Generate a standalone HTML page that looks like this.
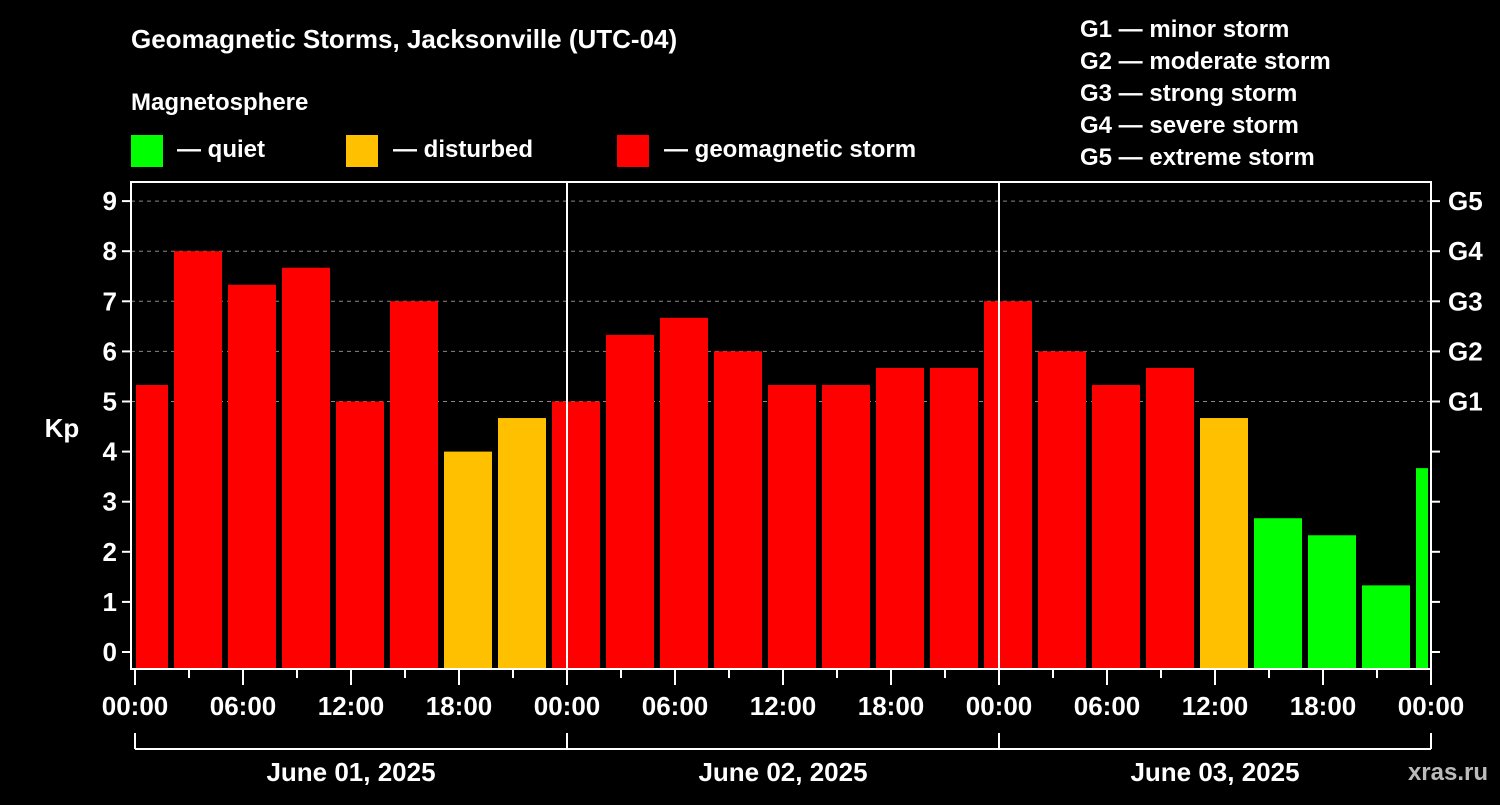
<!DOCTYPE html>
<html><head><meta charset="utf-8"><style>
body{margin:0;background:#000;width:1500px;height:800px;overflow:hidden;font-family:"Liberation Sans",sans-serif}
svg text{font-family:"Liberation Sans",sans-serif;font-weight:bold;fill:#fff}
</style></head><body>
<svg id="c" width="1500" height="800">
<text x="131" y="48" font-size="26">Geomagnetic Storms, Jacksonville (UTC-04)</text>
<text x="131" y="110" font-size="24">Magnetosphere</text>
<rect x="131" y="135" width="32" height="32" fill="#00ff00"/>
<text x="177" y="157" font-size="24">— quiet</text>
<rect x="346" y="135" width="32" height="32" fill="#ffc000"/>
<text x="393" y="157" font-size="24">— disturbed</text>
<rect x="617" y="135" width="32" height="32" fill="#ff0000"/>
<text x="664" y="157" font-size="24">— geomagnetic storm</text>
<g font-size="24">
<text x="1080" y="37">G1 — minor storm</text>
<text x="1080" y="69">G2 — moderate storm</text>
<text x="1080" y="101">G3 — strong storm</text>
<text x="1080" y="133">G4 — severe storm</text>
<text x="1080" y="165">G5 — extreme storm</text>
</g>
<text x="62" y="437" font-size="26" text-anchor="middle">Kp</text>
<text x="1488" y="780" font-size="24" text-anchor="end" fill="#bbb" style="fill:#bbb">xras.ru</text>
<g id="plot"></g>
</svg>
<script>
const kpValues=[5.33,8,7.33,7.67,5,7,4,4.67,5,6.33,6.67,6,5.33,5.33,5.67,5.67,7,6,5.33,5.67,4.67,2.67,2.33,1.33,3.67];
const startHour=-1; // first bin starts at 23:00 previous day
const yTicks=[0,1,2,3,4,5,6,7,8,9];
const gLabels=["G1","G2","G3","G4","G5"];
const xLabels=["00:00","06:00","12:00","18:00","00:00","06:00","12:00","18:00","00:00","06:00","12:00","18:00","00:00"];
const dayLabels=["June 01, 2025","June 02, 2025","June 03, 2025"];
const L=131,R=1431,T=182,B=669,x0=135;
const xs=h=>x0+h*18, ys=v=>652-v*50.1;
const NS="http://www.w3.org/2000/svg",g=document.getElementById('plot');
function mk(t,a,p){const e=document.createElementNS(NS,t);for(const k in a)e.setAttribute(k,a[k]);(p||g).appendChild(e);return e;}
// grid
for(let v=5;v<=9;v++){const e=mk('line',{x1:L,x2:R,y1:ys(v),y2:ys(v),stroke:'#888','stroke-dasharray':'4,4','stroke-width':1});

}
// bars
kpValues.forEach((v,i)=>{let a=xs(startHour+i*3)+3,b=xs(startHour+i*3+3)-3;a=Math.max(a,L+5);b=Math.min(b,R-3);
const c=v>=5?'#ff0000':(v>=4?'#ffc000':'#00ff00');
const r=mk('rect',{x:a,y:ys(v),width:b-a,height:B-1-ys(v),fill:c});

});
// day separators
[1,2].forEach(d=>{const e=mk('line',{x1:xs(24*d),x2:xs(24*d),y1:T,y2:B,stroke:'#fff','stroke-width':2});

});
const fr=mk('rect',{x:L,y:T,width:R-L,height:B-T,fill:'none',stroke:'#fff','stroke-width':2});


yTicks.forEach(v=>{mk('line',{x1:L-9,x2:L,y1:ys(v),y2:ys(v),stroke:'#fff','stroke-width':2});
mk('line',{x1:R,x2:R+9,y1:ys(v),y2:ys(v),stroke:'#fff','stroke-width':2});
const t=mk('text',{x:L-14,y:ys(v)+9,'font-size':26,'text-anchor':'end'});t.textContent=v;

});
gLabels.forEach((s,i)=>{const t=mk('text',{x:R+17,y:ys(5+i)+9,'font-size':26});t.textContent=s;

});
for(let h=0;h<=72;h+=3){mk('line',{x1:xs(h),x2:xs(h),y1:B,y2:h%6?B+9:B+16,stroke:'#fff','stroke-width':2});}
xLabels.forEach((s,i)=>{const t=mk('text',{x:xs(i*6),y:715,'font-size':26,'text-anchor':'middle'});t.textContent=s;

});
mk('line',{x1:xs(0),x2:xs(72),y1:749,y2:749,stroke:'#fff','stroke-width':2});
for(let d=0;d<=3;d++)mk('line',{x1:xs(24*d),x2:xs(24*d),y1:733,y2:749,stroke:'#fff','stroke-width':2});
dayLabels.forEach((s,i)=>{const t=mk('text',{x:xs(24*i+12),y:781,'font-size':26,'text-anchor':'middle'});t.textContent=s;

});
</script>
</body></html>
